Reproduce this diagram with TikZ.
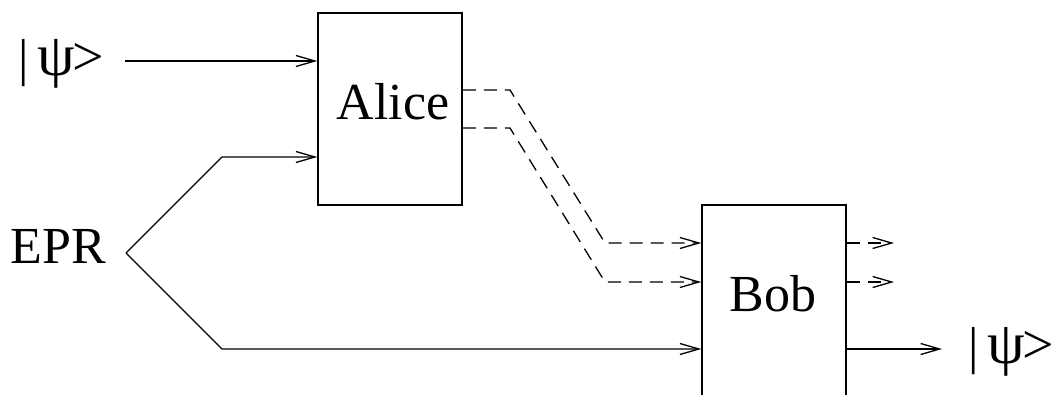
\documentclass[tikz,border=0pt]{standalone}
\usepackage{fontspec}
\setmainfont{Liberation Serif}
\usetikzlibrary{arrows.meta}
\newcommand{\ketpsi}{|\hspace{9pt}{\fontsize{60}{70}\selectfont ψ}\kern-3pt{\fontsize{56}{64}\selectfont >}}
\begin{document}
\begin{tikzpicture}[x=1pt,y=-1pt,
  box/.style={draw, line width=1.5pt, inner sep=0pt, minimum width=144pt},
  lbl/.style={font=\fontsize{52}{60}\selectfont, inner sep=0pt},
  wire/.style={line width=1.3pt},
  arr/.style={wire, -{Straight Barb[length=19pt,width=11pt,line width=1.3pt]}},
  dsh/.style={dash pattern=on 13pt off 8pt}]
\useasboundingbox (0,0) rectangle (1054,394);
\clip (0,0) rectangle (1054,394);
% boxes
\node[box, minimum height=192pt] (alice) at (390,109) {};
\node[box, minimum height=245pt] (bob) at (774,327.5) {};
\node[lbl] (alicet) at (393,102) {Alice};
\node[lbl] (bobt) at (773,294) {Bob};
% labels
\node[lbl, anchor=base west] (psiin) at (18,75) {\ketpsi};
\node[lbl] (epr) at (58,246) {EPR};
\node[lbl, anchor=base west] (psiout) at (968,363) {\ketpsi};
% coordinates
\coordinate (a1) at (125,61);
\coordinate (v) at (126,253);
\coordinate (u1) at (222,157);
\coordinate (l1) at (222,349);
\coordinate (d1a) at (510,90);
\coordinate (d1b) at (605,243);
\coordinate (d2a) at (510,128);
\coordinate (d2b) at (605,282);
\coordinate (o1) at (894,243);
\coordinate (o2) at (894,282);
\coordinate (o3) at (942,349);
% solid wires
\draw[arr] (a1) -- (a1 -| alice.west);
\draw[arr] (v) -- (u1) -- (u1 -| alice.west);
\draw[arr] (v) -- (l1) -- (l1 -| bob.west);
\draw[arr] (o3 -| bob.east) -- (o3);
% classical (dashed) wires
\draw[arr,dsh] (d1a -| alice.east) -- (d1a) -- (d1b) -- (d1b -| bob.west);
\draw[arr,dsh] (d2a -| alice.east) -- (d2a) -- (d2b) -- (d2b -| bob.west);
\draw[arr,dsh] (o1 -| bob.east) -- (o1);
\draw[arr,dsh] (o2 -| bob.east) -- (o2);
\end{tikzpicture}
\end{document}
